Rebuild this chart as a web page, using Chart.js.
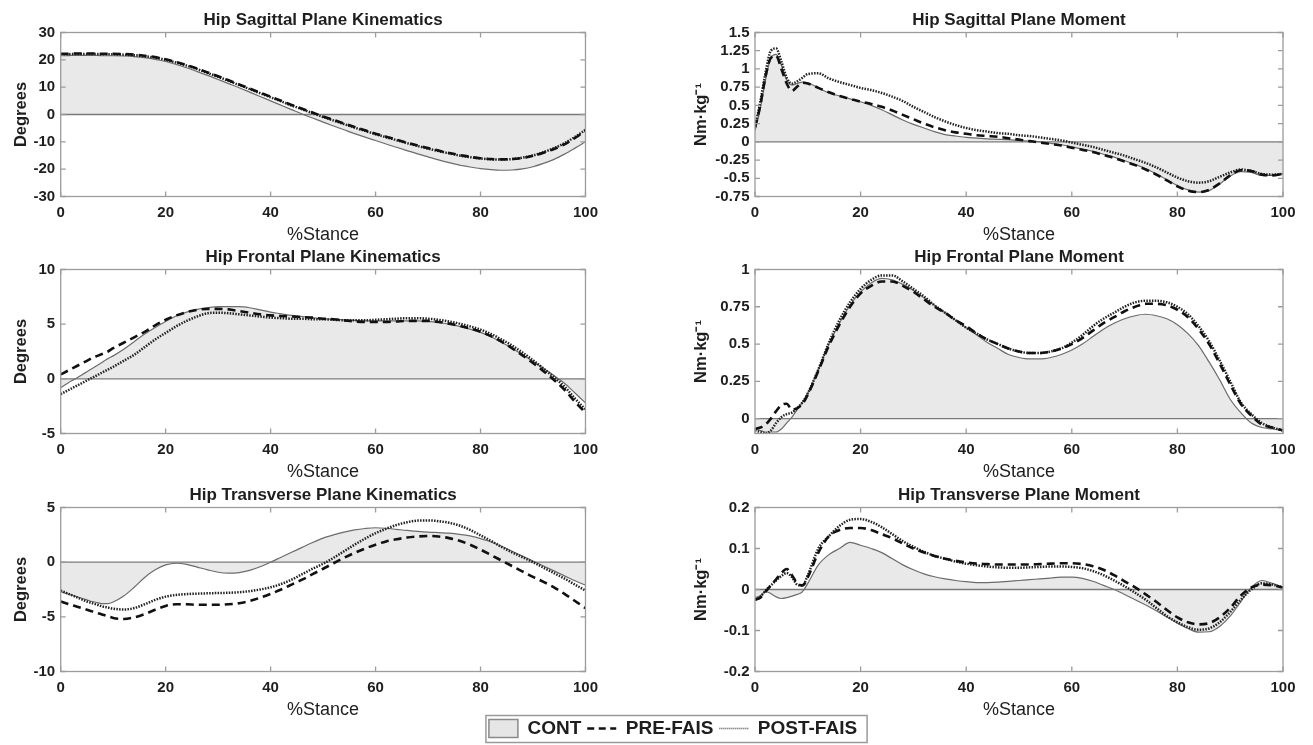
<!DOCTYPE html>
<html>
<head>
<meta charset="utf-8">
<title>Hip kinematics and moments</title>
<script src="https://cdn.jsdelivr.net/npm/chart.js@4.4.1/dist/chart.umd.min.js"></script>
<style>
  html, body { margin: 0; padding: 0; background: #fff; }
  body { width: 1313px; height: 745px; position: relative; overflow: hidden; }
  canvas { position: absolute; }
</style>
</head>
<body>
<canvas id="sagKin" width="605" height="246" style="left:0px;top:0px"></canvas>
<canvas id="sagMom" width="633" height="246" style="left:680px;top:0px"></canvas>
<canvas id="frontKin" width="605" height="246" style="left:0px;top:237px"></canvas>
<canvas id="frontMom" width="633" height="246" style="left:680px;top:237px"></canvas>
<canvas id="transKin" width="605" height="246" style="left:0px;top:475px"></canvas>
<canvas id="transMom" width="633" height="246" style="left:680px;top:475px"></canvas>
<canvas id="legend" width="420" height="80" style="left:463px;top:713px"></canvas>
<script>
// % stance samples (1% steps over the loading peak, 2% after)
const stance = [0,1,2,3,4,5,6,7,8,9,10,12,14,16,18,20,22,24,26,28,30,32,34,36,38,40,42,44,46,48,50,
  52,54,56,58,60,62,64,66,68,70,72,74,76,78,80,82,84,86,88,90,92,94,96,98,100];
const stanceTicks = [0, 20, 40, 60, 80, 100];

// Hip sagittal plane kinematics (degrees)
const sagKinCont = [21.5,21.5,21.6,21.6,21.6,21.6,21.6,21.6,21.5,21.5,21.5,
  21.4,21.2,20.8,20.2,19.4,18.3,17.1,15.7,14.3,12.8,11.3,9.8,8.2,6.6,5.0,3.4,1.8,0.2,-1.3,-2.8,
  -4.2,-5.6,-7.0,-8.3,-9.5,-10.8,-12.0,-13.2,-14.4,-15.5,-16.6,-17.6,-18.5,-19.2,-19.8,-20.2,-20.4,-20.3,-19.9,-19.1,
  -17.9,-16.4,-14.5,-12.3,-10.0];
const sagKinPre = [22.2,22.2,22.3,22.3,22.3,22.3,22.3,22.3,22.2,22.2,22.2,
  22.1,21.9,21.5,21.0,20.2,19.2,18.1,16.8,15.4,14.0,12.5,11.0,9.5,8.0,6.5,5.0,3.5,2.1,0.7,-0.7,
  -2.0,-3.3,-4.6,-5.8,-7.0,-8.1,-9.2,-10.3,-11.3,-12.3,-13.2,-14.1,-14.8,-15.5,-16.0,-16.3,-16.4,-16.3,-15.9,-15.1,
  -14.0,-12.6,-10.9,-8.6,-6.0];
const sagKinPost = [22.0,22.0,22.1,22.1,22.1,22.1,22.1,22.1,22.0,22.0,22.0,
  21.9,21.7,21.3,20.8,20.0,19.0,17.9,16.6,15.2,13.8,12.3,10.8,9.3,7.8,6.3,4.8,3.3,1.9,0.5,-0.9,
  -2.2,-3.5,-4.8,-6.0,-7.2,-8.3,-9.4,-10.5,-11.5,-12.5,-13.4,-14.2,-15.0,-15.6,-16.1,-16.4,-16.5,-16.3,-15.8,-15.0,
  -13.8,-12.3,-10.5,-8.2,-5.6];
const sagKinTicks = [-30, -20, -10, 0, 10, 20, 30];

// Hip sagittal plane moment (Nm/kg)
const sagMomCont = [0.15,0.45,0.85,1.15,1.2,1.05,0.85,0.78,0.8,0.82,0.81,
  0.74,0.67,0.63,0.59,0.55,0.5,0.44,0.37,0.3,0.24,0.19,0.14,0.1,0.08,0.06,0.05,0.04,0.035,0.03,0.02,
  0.01,0.0,-0.02,-0.04,-0.07,-0.1,-0.13,-0.17,-0.21,-0.26,-0.31,-0.37,-0.44,-0.52,-0.6,-0.66,-0.69,-0.67,-0.58,-0.47,
  -0.41,-0.42,-0.46,-0.46,-0.44];
const sagMomPre = [0.2,0.5,0.9,1.15,1.18,1.0,0.8,0.7,0.76,0.81,0.8,
  0.74,0.68,0.63,0.59,0.55,0.52,0.48,0.43,0.37,0.31,0.25,0.2,0.16,0.13,0.11,0.09,0.08,0.07,0.05,0.03,
  0.01,-0.01,-0.03,-0.05,-0.08,-0.11,-0.14,-0.18,-0.22,-0.27,-0.32,-0.38,-0.45,-0.53,-0.61,-0.67,-0.69,-0.66,-0.57,-0.46,
  -0.39,-0.4,-0.45,-0.46,-0.44];
const sagMomPost = [0.2,0.55,0.95,1.25,1.28,1.1,0.88,0.8,0.83,0.88,0.93,
  0.94,0.87,0.82,0.78,0.74,0.71,0.67,0.62,0.56,0.48,0.41,0.34,0.28,0.23,0.19,0.16,0.14,0.12,0.11,0.09,
  0.08,0.06,0.04,0.02,-0.01,-0.04,-0.07,-0.11,-0.15,-0.19,-0.24,-0.29,-0.35,-0.42,-0.49,-0.54,-0.56,-0.54,-0.48,-0.42,
  -0.38,-0.4,-0.44,-0.45,-0.44];
const sagMomTicks = [-0.75, -0.5, -0.25, 0, 0.25, 0.5, 0.75, 1, 1.25, 1.5];

// Hip frontal plane kinematics (degrees)
const frontKinCont = [-0.8,-0.5,-0.2,0.05,0.35,0.65,0.95,1.25,1.55,1.85,2.1,
  2.7,3.4,4.1,4.7,5.25,5.75,6.1,6.35,6.5,6.6,6.6,6.6,6.5,6.3,6.1,5.95,5.8,5.7,5.6,5.5,
  5.45,5.4,5.35,5.3,5.3,5.3,5.3,5.3,5.3,5.25,5.15,5.0,4.8,4.55,4.25,3.85,3.35,2.8,2.2,1.6,
  0.95,0.3,-0.4,-1.3,-2.2];
const frontKinPre = [0.4,0.65,0.9,1.15,1.4,1.65,1.9,2.1,2.3,2.5,2.8,
  3.3,3.8,4.3,4.9,5.4,5.8,6.1,6.3,6.4,6.4,6.35,6.2,6.05,5.9,5.8,5.75,5.7,5.65,5.6,5.5,
  5.45,5.35,5.25,5.2,5.2,5.2,5.25,5.3,5.3,5.3,5.2,5.05,4.85,4.6,4.3,3.9,3.4,2.8,2.15,1.45,
  0.7,-0.1,-1.0,-2.1,-3.1];
const frontKinPost = [-1.4,-1.15,-0.9,-0.65,-0.4,-0.15,0.1,0.35,0.6,0.85,1.1,
  1.65,2.2,2.9,3.6,4.2,4.8,5.3,5.7,6.0,6.05,6.0,5.9,5.8,5.7,5.6,5.55,5.5,5.5,5.45,5.45,
  5.4,5.35,5.35,5.35,5.4,5.45,5.5,5.55,5.55,5.5,5.4,5.25,5.05,4.8,4.5,4.1,3.6,3.05,2.4,1.7,
  0.95,0.15,-0.7,-1.8,-2.8];
const frontKinTicks = [-5, 0, 5, 10];

// Hip frontal plane moment (Nm/kg)
const frontMomCont = [-0.07,-0.08,-0.09,-0.09,-0.09,-0.07,-0.03,0.01,0.06,0.11,0.17,
  0.33,0.5,0.64,0.76,0.85,0.91,0.94,0.93,0.9,0.86,0.81,0.76,0.71,0.66,0.61,0.56,0.51,0.47,0.43,0.41,
  0.4,0.4,0.41,0.43,0.46,0.5,0.55,0.6,0.64,0.67,0.69,0.7,0.69,0.67,0.63,0.57,0.49,0.38,0.26,0.13,
  0.04,-0.03,-0.06,-0.07,-0.08];
const frontMomPre = [-0.07,-0.06,-0.04,0.0,0.05,0.09,0.1,0.06,0.07,0.1,0.16,
  0.32,0.49,0.63,0.75,0.84,0.89,0.92,0.92,0.89,0.85,0.8,0.75,0.71,0.66,0.62,0.57,0.53,0.5,0.47,0.45,
  0.44,0.44,0.45,0.47,0.5,0.54,0.59,0.64,0.68,0.72,0.75,0.77,0.77,0.76,0.73,0.68,0.6,0.5,0.37,0.23,
  0.1,0.02,-0.04,-0.06,-0.08];
const frontMomPost = [-0.08,-0.09,-0.1,-0.08,-0.03,0.01,0.03,0.04,0.07,0.11,0.17,
  0.33,0.51,0.66,0.78,0.87,0.93,0.96,0.96,0.92,0.87,0.82,0.76,0.71,0.66,0.61,0.57,0.53,0.5,0.47,0.45,
  0.44,0.44,0.45,0.47,0.51,0.56,0.62,0.67,0.71,0.75,0.78,0.79,0.79,0.78,0.75,0.7,0.62,0.52,0.39,0.25,
  0.11,0.03,-0.03,-0.06,-0.08];
const frontMomTicks = [0, 0.25, 0.5, 0.75, 1];

// Hip transverse plane kinematics (degrees)
const transKinCont = [-2.7,-2.85,-3.0,-3.15,-3.3,-3.45,-3.6,-3.7,-3.8,-3.8,-3.65,
  -3.1,-2.3,-1.4,-0.7,-0.25,-0.1,-0.2,-0.45,-0.7,-0.92,-1.0,-0.95,-0.75,-0.42,0.0,0.45,0.9,1.35,1.8,2.2,
  2.5,2.75,2.95,3.08,3.15,3.1,3.0,2.9,2.82,2.75,2.7,2.65,2.55,2.4,2.15,1.85,1.45,1.0,0.55,0.1,
  -0.35,-0.8,-1.25,-1.7,-2.1];
const transKinPre = [-3.6,-3.75,-3.9,-4.05,-4.2,-4.35,-4.5,-4.65,-4.8,-4.95,-5.1,
  -5.2,-5.05,-4.75,-4.35,-4.0,-3.85,-3.85,-3.9,-3.9,-3.9,-3.85,-3.75,-3.55,-3.25,-2.9,-2.5,-2.05,-1.6,-1.1,-0.6,
  -0.1,0.4,0.85,1.25,1.6,1.9,2.1,2.25,2.35,2.4,2.35,2.2,1.95,1.6,1.15,0.65,0.15,-0.35,-0.85,-1.35,
  -1.8,-2.3,-2.9,-3.55,-4.2];
const transKinPost = [-2.6,-2.8,-3.0,-3.2,-3.4,-3.6,-3.75,-3.9,-4.05,-4.15,-4.25,
  -4.33,-4.2,-3.85,-3.45,-3.15,-3.0,-2.92,-2.88,-2.85,-2.82,-2.8,-2.75,-2.65,-2.5,-2.3,-2.0,-1.6,-1.1,-0.6,-0.15,
  0.4,1.0,1.6,2.15,2.65,3.05,3.4,3.65,3.8,3.82,3.75,3.6,3.35,2.95,2.45,1.95,1.4,0.9,0.45,0.0,
  -0.5,-1.0,-1.5,-2.05,-2.6];
const transKinTicks = [-10, -5, 0, 5];

// Hip transverse plane moment (Nm/kg)
const transMomCont = [-0.02,-0.015,-0.005,-0.01,-0.018,-0.022,-0.02,-0.016,-0.012,-0.005,0.015,
  0.06,0.085,0.1,0.115,0.108,0.1,0.09,0.075,0.06,0.048,0.038,0.031,0.026,0.022,0.019,0.017,0.017,0.018,0.02,0.022,
  0.024,0.026,0.028,0.03,0.03,0.027,0.02,0.01,0.0,-0.012,-0.025,-0.038,-0.052,-0.067,-0.082,-0.095,-0.104,-0.103,-0.09,-0.065,
  -0.03,0.005,0.022,0.015,0.005];
const transMomPre = [-0.025,-0.02,-0.005,0.01,0.025,0.04,0.05,0.035,0.015,0.01,0.03,
  0.09,0.13,0.145,0.15,0.15,0.145,0.135,0.125,0.112,0.1,0.09,0.082,0.075,0.07,0.066,0.063,0.062,0.061,0.061,0.061,
  0.061,0.062,0.063,0.064,0.064,0.062,0.057,0.048,0.035,0.02,0.005,-0.012,-0.03,-0.05,-0.068,-0.08,-0.085,-0.082,-0.068,-0.045,
  -0.015,0.005,0.012,0.01,0.005];
const transMomPost = [-0.025,-0.018,-0.003,0.01,0.022,0.033,0.04,0.03,0.012,0.01,0.035,
  0.1,0.13,0.155,0.17,0.172,0.165,0.152,0.135,0.118,0.104,0.092,0.082,0.075,0.068,0.063,0.059,0.056,0.054,0.053,0.053,
  0.054,0.055,0.056,0.056,0.055,0.052,0.045,0.035,0.022,0.008,-0.008,-0.025,-0.045,-0.065,-0.08,-0.092,-0.098,-0.095,-0.08,-0.055,
  -0.025,0.0,0.015,0.012,0.005];
const transMomTicks = [-0.2, -0.1, 0, 0.1, 0.2];

const FONT = '"Liberation Sans", Arial, Helvetica, sans-serif';
const TEXT = '#1e1e1e';

function points(ys) {
  return stance.map(function(x, i) { return { x: x, y: ys[i] }; });
}

// MATLAB-like axes: zero line over the fill, grey box, inward ticks on all sides
const matlabAxes = {
  id: 'matlabAxes',
  beforeDatasetsDraw: function(chart) {
    const a = chart.chartArea, ctx = chart.ctx;
    const y0 = chart.scales.y.getPixelForValue(0);
    ctx.save();
    ctx.strokeStyle = '#7a7a7a';
    ctx.lineWidth = 1.3;
    ctx.beginPath();
    ctx.moveTo(a.left, y0);
    ctx.lineTo(a.right, y0);
    ctx.stroke();
    ctx.restore();
  },
  afterDraw: function(chart) {
    const a = chart.chartArea, ctx = chart.ctx;
    const x = chart.scales.x, y = chart.scales.y;
    ctx.save();
    ctx.strokeStyle = '#9c9c9c';
    ctx.lineWidth = 1.3;
    ctx.strokeRect(a.left, a.top, a.right - a.left, a.bottom - a.top);
    ctx.beginPath();
    x.ticks.forEach(function(t) {
      const px = x.getPixelForValue(t.value);
      ctx.moveTo(px, a.bottom); ctx.lineTo(px, a.bottom - 5);
      ctx.moveTo(px, a.top); ctx.lineTo(px, a.top + 5);
    });
    y.ticks.forEach(function(t) {
      const py = y.getPixelForValue(t.value);
      ctx.moveTo(a.left, py); ctx.lineTo(a.left + 5, py);
      ctx.moveTo(a.right, py); ctx.lineTo(a.right - 5, py);
    });
    ctx.stroke();
    ctx.restore();
  }
};

function makePanel(id, title, yLabel, yTicks, yMin, yMax, cont, pre, post, right) {
  const axisWidth = right ? 75 : 60.7;
  return new Chart(document.getElementById(id), {
    type: 'line',
    data: {
      datasets: [
        { label: 'PRE-FAIS', data: points(pre), borderColor: '#111', borderWidth: 2.6,
          borderDash: [8, 5], fill: false },
        { label: 'POST-FAIS', data: points(post), borderColor: '#222', borderWidth: 2.5,
          borderDash: [1.5, 1.3], fill: false },
        { label: 'CONT', data: points(cont), borderColor: '#6c6c6c', borderWidth: 1.2,
          backgroundColor: '#e9e9e9', fill: 'origin' }
      ]
    },
    options: {
      responsive: false,
      animation: false,
      layout: { padding: { left: 0, right: right ? 30 : 17, top: 0, bottom: 0 } },
      elements: {
        point: { radius: 0 },
        line: { cubicInterpolationMode: 'monotone' }
      },
      plugins: {
        legend: { display: false },
        tooltip: { enabled: false },
        filler: { drawTime: 'beforeDatasetsDraw' },
        title: {
          display: true,
          text: title,
          fullSize: false,
          color: TEXT,
          font: { family: FONT, size: 17, weight: 'bold' },
          padding: { top: 9.8, bottom: 2.3 }
        }
      },
      scales: {
        x: {
          type: 'linear',
          min: 0,
          max: 100,
          afterBuildTicks: function(s) { s.ticks = stanceTicks.map(function(v) { return { value: v }; }); },
          afterFit: function(s) { s.height = 49.5; },
          grid: { display: false, drawTicks: false },
          border: { display: false },
          ticks: { padding: 7, autoSkip: false, maxRotation: 0, color: TEXT,
                   font: { family: FONT, size: 15, weight: 'bold' } },
          title: { display: true, text: '%Stance', color: TEXT,
                   font: { family: FONT, size: 18 }, padding: { top: 0, bottom: 0 } }
        },
        y: {
          type: 'linear',
          min: yMin,
          max: yMax,
          afterBuildTicks: function(s) { s.ticks = yTicks.map(function(v) { return { value: v }; }); },
          afterFit: function(s) { s.width = axisWidth; },
          grid: { display: false, drawTicks: false },
          border: { display: false },
          ticks: { padding: 5.5, autoSkip: false, color: TEXT,
                   font: { family: FONT, size: 15, weight: 'bold' },
                   callback: function(v) { return String(v); } },
          title: { display: true, text: yLabel, color: TEXT,
                   font: { family: FONT, size: 16.5, weight: 'bold' },
                   padding: { top: right ? 11.7 : 11.1, bottom: 0 } }
        }
      }
    },
    plugins: [matlabAxes]
  });
}

const MOMENT = 'Nm\u00b7kg\u207b\u00b9';
makePanel('sagKin', 'Hip Sagittal Plane Kinematics', 'Degrees', sagKinTicks, -30, 30,
  sagKinCont, sagKinPre, sagKinPost, false);
makePanel('sagMom', 'Hip Sagittal Plane Moment', MOMENT, sagMomTicks, -0.75, 1.5,
  sagMomCont, sagMomPre, sagMomPost, true);
makePanel('frontKin', 'Hip Frontal Plane Kinematics', 'Degrees', frontKinTicks, -5, 10,
  frontKinCont, frontKinPre, frontKinPost, false);
makePanel('frontMom', 'Hip Frontal Plane Moment', MOMENT, frontMomTicks, -0.1, 1,
  frontMomCont, frontMomPre, frontMomPost, true);
makePanel('transKin', 'Hip Transverse Plane Kinematics', 'Degrees', transKinTicks, -10, 5,
  transKinCont, transKinPre, transKinPost, false);
makePanel('transMom', 'Hip Transverse Plane Moment', MOMENT, transMomTicks, -0.2, 0.2,
  transMomCont, transMomPre, transMomPost, true);

// shared legend with a frame round it
const legendFrame = {
  id: 'legendFrame',
  afterDraw: function(chart) {
    const boxes = chart.legend.legendHitBoxes;
    if (!boxes || !boxes.length) return;
    const first = boxes[0], last = boxes[boxes.length - 1];
    const ctx = chart.ctx;
    const x0 = first.left - 3, x1 = last.left + last.width + 10;
    ctx.save();
    ctx.strokeStyle = '#9a9a9a';
    ctx.lineWidth = 1.5;
    ctx.strokeRect(x0, 2.5, x1 - x0, 27);
    ctx.restore();
  }
};

new Chart(document.getElementById('legend'), {
  type: 'line',
  data: {
    datasets: [
      { label: 'CONT', data: [], backgroundColor: '#e6e6e6', borderColor: '#8a8a8a', borderWidth: 1.5,
        borderDash: [], pointStyle: 'rect' },
      { label: 'PRE-FAIS', data: [], backgroundColor: 'rgba(0,0,0,0)', borderColor: '#111', borderWidth: 2.6,
        borderDash: [7, 4.5], pointStyle: 'line' },
      { label: 'POST-FAIS', data: [], backgroundColor: 'rgba(0,0,0,0)', borderColor: '#555', borderWidth: 1.6,
        borderDash: [1, 1], pointStyle: 'line' }
    ]
  },
  options: {
    responsive: false,
    animation: false,
    layout: { padding: 0 },
    scales: { x: { display: false }, y: { display: false } },
    plugins: {
      tooltip: { enabled: false },
      legend: {
        display: true,
        position: 'top',
        labels: {
          usePointStyle: true,
          pointStyleWidth: 29,
          boxHeight: 18,
          padding: 6,
          color: TEXT,
          font: { family: FONT, size: 19, weight: 'bold' },
          generateLabels: function(chart) {
            return chart.data.datasets.map(function(d, i) {
              return { text: d.label, fillStyle: d.backgroundColor, strokeStyle: d.borderColor,
                       lineWidth: d.borderWidth, lineDash: d.borderDash, pointStyle: d.pointStyle,
                       fontColor: TEXT, hidden: false, datasetIndex: i };
            });
          }
        }
      }
    }
  },
  plugins: [legendFrame]
});
</script>
</body>
</html>
